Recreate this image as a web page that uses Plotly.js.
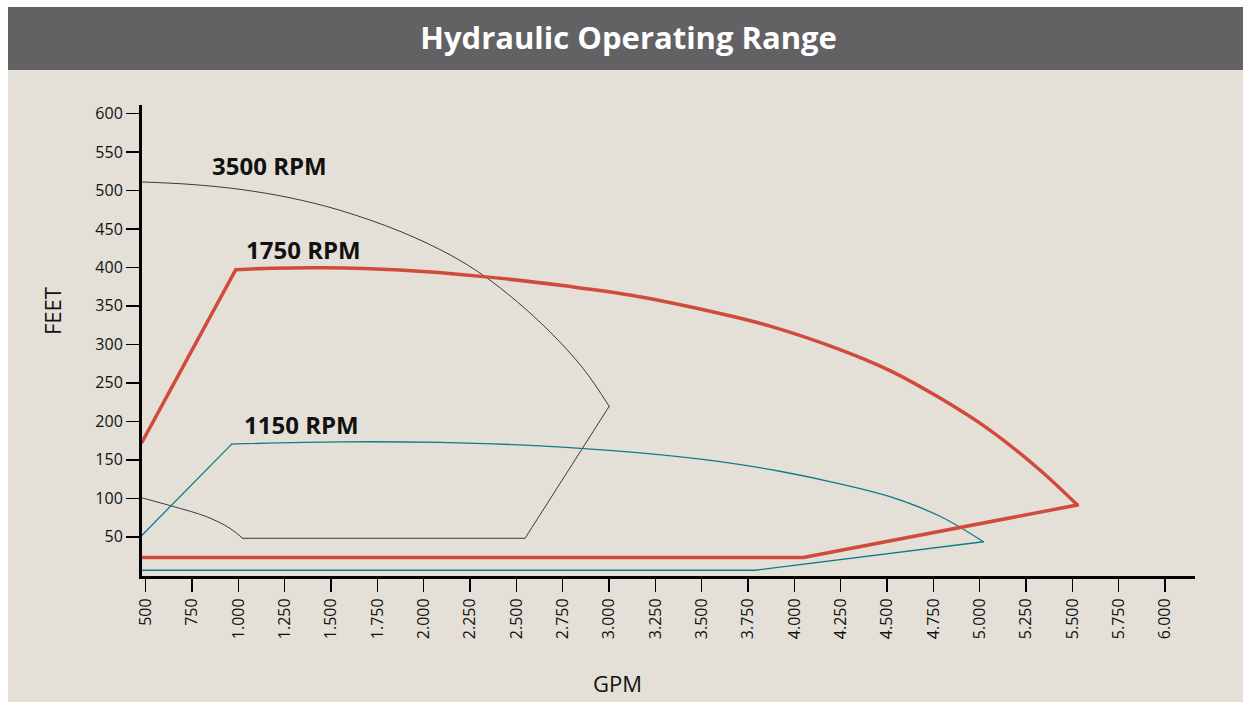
<!DOCTYPE html>
<html>
<head>
<meta charset="utf-8">
<script src="https://cdn.plot.ly/plotly-3.0.1.min.js"></script>
<style>
  html, body { margin: 0; padding: 0; background: #ffffff; }
  #chart { position: absolute; left: 8px; top: 7px; width: 1235px; height: 695px; }
  .js-plotly-plot .scatterlayer path.js-line { stroke-linejoin: round; stroke-linecap: round; }
</style>
</head>
<body>
<div id="chart"></div>
<script>
// ---- data (GPM, FEET) ----
// 3500 RPM: upper curve, straight drop, flat bottom, lower-left curve
const rpm3500_top_gpm   = [480, 739, 1009, 1279, 1548, 1872, 2142, 2322, 2502, 2682, 2861, 3001];
const rpm3500_top_feet  = [511, 507.9, 501.4, 490.4, 474.2, 446.9, 416.3, 389.6, 355.8, 316.1, 268.5, 219.5];
const rpm3500_edge_gpm  = [3001, 2547, 1023];
const rpm3500_edge_feet = [219.5, 48, 48];
const rpm3500_low_gpm   = [1023, 955, 829, 640, 480];
const rpm3500_low_feet  = [48, 60.9, 76, 89.9, 100.5];

// 1750 RPM
const rpm1750_rise_gpm  = [480, 986];
const rpm1750_rise_feet = [173, 397];
const rpm1750_top_gpm   = [986, 1188, 1458, 1872, 2322, 2772, 3113, 3599, 3869, 4246, 4516, 4786, 5055, 5325, 5527];
const rpm1750_top_feet  = [397, 399, 399.5, 396.5, 388, 375.7, 364, 340, 323.7, 293.2, 265.9, 230.2, 188.6, 136.7, 91.2];
const rpm1750_base_gpm  = [5527, 4048, 480];
const rpm1750_base_feet = [91.2, 23, 23];

// 1150 RPM
const rpm1150_rise_gpm  = [480, 964];
const rpm1150_rise_feet = [52, 170.4];
const rpm1150_top_gpm   = [964, 1548, 2088, 2627, 3167, 3599, 3922, 4246, 4516, 4786, 5020];
const rpm1150_top_feet  = [170.4, 173.3, 172.6, 168.1, 159.0, 147.6, 135.1, 118.7, 102.0, 76.6, 43.5];
const rpm1150_base_gpm  = [5020, 3788, 480];
const rpm1150_base_feet = [43.5, 6.5, 6.5];

const seriesLabels = ["3500 RPM", "1750 RPM", "1150 RPM"];
const labelGpm  = [848, 1028, 1018];
const labelFeet = [533, 423, 196];

const xTickVals = [500, 750, 1000, 1250, 1500, 1750, 2000, 2250, 2500, 2750, 3000, 3250, 3500, 3750, 4000, 4250, 4500, 4750, 5000, 5250, 5500, 5750, 6000];
const xTickText = ["500", "750", "1.000", "1.250", "1.500", "1.750", "2.000", "2.250", "2.500", "2.750", "3.000", "3.250", "3.500", "3.750", "4.000", "4.250", "4.500", "4.750", "5.000", "5.250", "5.500", "5.750", "6.000"];
const yTickVals = [50, 100, 150, 200, 250, 300, 350, 400, 450, 500, 550, 600];

const titleText = "Hydraulic Operating Range";
const xTitle = "GPM";
const yTitle = "FEET";

// ---- styling ----
const BG = "#E4E0D7";
const BAR = "#626264";
const FONT = "Open Sans, Noto Sans, sans-serif";
const BLACK = { color: "#3a3a3a", width: 1 };
const TEAL = { color: "#13798A", width: 1.3 };
const RED = { color: "#D14B3A", width: 3.5 };

function seg(x, y, line, shape) {
  return { x: x, y: y, mode: "lines", line: Object.assign({ shape: shape }, line), hoverinfo: "skip" };
}

const traces = [
  seg(rpm3500_top_gpm, rpm3500_top_feet, BLACK, "spline"),
  seg(rpm3500_edge_gpm, rpm3500_edge_feet, BLACK, "linear"),
  seg(rpm3500_low_gpm, rpm3500_low_feet, BLACK, "spline"),
  seg(rpm1150_rise_gpm, rpm1150_rise_feet, TEAL, "linear"),
  seg(rpm1150_top_gpm, rpm1150_top_feet, TEAL, "spline"),
  seg(rpm1150_base_gpm, rpm1150_base_feet, TEAL, "linear"),
  seg(rpm1750_rise_gpm, rpm1750_rise_feet, RED, "linear"),
  seg(rpm1750_top_gpm, rpm1750_top_feet, RED, "spline"),
  seg(rpm1750_base_gpm, rpm1750_base_feet, RED, "linear")
];

const annotations = seriesLabels.map((t, i) => ({
  x: labelGpm[i], y: labelFeet[i], xref: "x", yref: "y",
  text: "<b>" + t + "</b>", showarrow: false, xanchor: "left", yanchor: "middle",
  font: { family: FONT, size: 24, color: "#111111" }
}));
annotations.push({
  x: -0.0855, y: 0.5626, xref: "paper", yref: "paper", text: yTitle, showarrow: false,
  textangle: -90, xanchor: "center", yanchor: "middle",
  font: { family: FONT, size: 22, color: "#111111" }
});
annotations.push({
  x: 0.4511, y: -0.2272, xref: "paper", yref: "paper", text: xTitle, showarrow: false,
  xanchor: "center", yanchor: "middle",
  font: { family: FONT, size: 22, color: "#111111" }
});

const layout = {
  width: 1235, height: 695,
  margin: { l: 134, r: 48, t: 98, b: 126, pad: 0 },
  paper_bgcolor: BG, plot_bgcolor: BG,
  showlegend: false,
  title: {
    text: "<b>" + titleText + "</b>",
    font: { family: FONT, size: 31, color: "#ffffff" },
    x: 0.5025, xref: "container", xanchor: "center",
    y: 0.9547, yref: "container", yanchor: "middle"
  },
  shapes: [
    { type: "rect", xref: "paper", yref: "paper", x0: -0.1273, x1: 1.0456, y0: 1.0743, y1: 1.2081,
      fillcolor: BAR, line: { width: 0 }, layer: "below" }
  ],
  xaxis: {
    range: [480, 6162], showgrid: false, zeroline: false,
    showline: true, linecolor: "#000000", linewidth: 3,
    ticks: "outside", ticklen: 13, tickwidth: 1.5, tickcolor: "#000000",
    tickvals: xTickVals, ticktext: xTickText, tickangle: -90,
    tickfont: { family: FONT, size: 16, color: "#111111" }
  },
  yaxis: {
    range: [-1, 611], showgrid: false, zeroline: false,
    showline: true, linecolor: "#000000", linewidth: 3,
    ticks: "outside", ticklen: 13, tickwidth: 1.5, tickcolor: "#000000",
    tickvals: yTickVals, ticktext: yTickVals.map(String),
    tickfont: { family: FONT, size: 16, color: "#111111" }
  },
  annotations: annotations
};

Plotly.newPlot("chart", traces, layout, { staticPlot: true, displayModeBar: false });
</script>
</body>
</html>
